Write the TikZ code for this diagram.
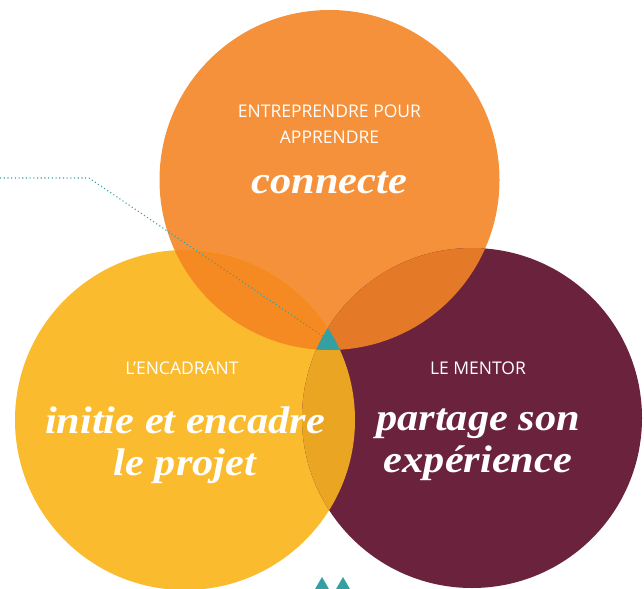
\documentclass[tikz,border=0pt]{standalone}
\usepackage{fontspec}
\setmainfont{Liberation Serif}
\newfontfamily\capsfont{Open Sans}
\newfontfamily\wordfont{Liberation Serif}[FakeStretch=1.1]
\usetikzlibrary{positioning,shapes.geometric}
\definecolor{orangeC}{HTML}{F5913A}
\definecolor{yellowC}{HTML}{FBBB2F}
\definecolor{wineC}{HTML}{6A223D}
\definecolor{flameC}{HTML}{F68A22}
\definecolor{rustC}{HTML}{E47A27}
\definecolor{goldC}{HTML}{EAA622}
\definecolor{tealC}{HTML}{35A0A2}
\tikzset{
ring/.style={circle, minimum size=340pt, inner sep=0pt},
small/.style={font=\capsfont\fontsize{17.5}{26}\selectfont, text=white, align=center},
big/.style={font=\wordfont\bfseries\itshape\fontsize{38.5}{42}\selectfont, text=white, align=center},
notch/.style={fill=tealC, isosceles triangle, shape border rotate=90,
    isosceles triangle apex angle=60, minimum height=12pt, inner sep=0pt}
}

\begin{document}
\begin{tikzpicture}[x=1pt,y=-1pt]
	\useasboundingbox (0,0) rectangle (644,588);
	\node[ring, fill=orangeC] (top) at (329.5,180) {};
	\node[ring, fill=yellowC] (left) at (185,420) {};
	\node[ring, fill=wineC] (right) at (472,418) {};
	% overlaps
	\begin{scope}
		\clip (left.center) circle (170pt);
		\fill[goldC] (right.center) circle (170pt);
	\end{scope}
	\begin{scope}
		\clip (top.center) circle (170pt);
		\fill[flameC] (left.center) circle (170pt);
		\fill[rustC] (right.center) circle (170pt);
		\clip (left.center) circle (170pt);
		\fill[tealC] (right.center) circle (170pt);
	\end{scope}
	% labels
	\node[small] (topcap) at (329.5,124) {ENTREPRENDRE POUR\\APPRENDRE};
	\node[big, anchor=base] (topword) at (329.5,193) {connecte};
	\node[small] (leftcap) at (182,368) {L’ENCADRANT};
	\node[big] (leftword) at (185,445) {initie et encadre\\le projet};
	\node[small] (rightcap) at (478,368) {LE MENTOR};
	\node[big] (rightword) at (478,445) {partage son\\expérience};
	% leader
	\coordinate (lead) at (0,178);
	\coordinate (knee) at (89,178);
	\coordinate (core) at (324,337);
	\draw[tealC, line width=1.1pt, dash pattern=on 1.1pt off 2.6pt] (lead) -- (knee) -- (core);
	\node[notch] (tri1) at (322,585) {};
	\node[notch] (tri2) at (343,585) {};
\end{tikzpicture}
\end{document}
